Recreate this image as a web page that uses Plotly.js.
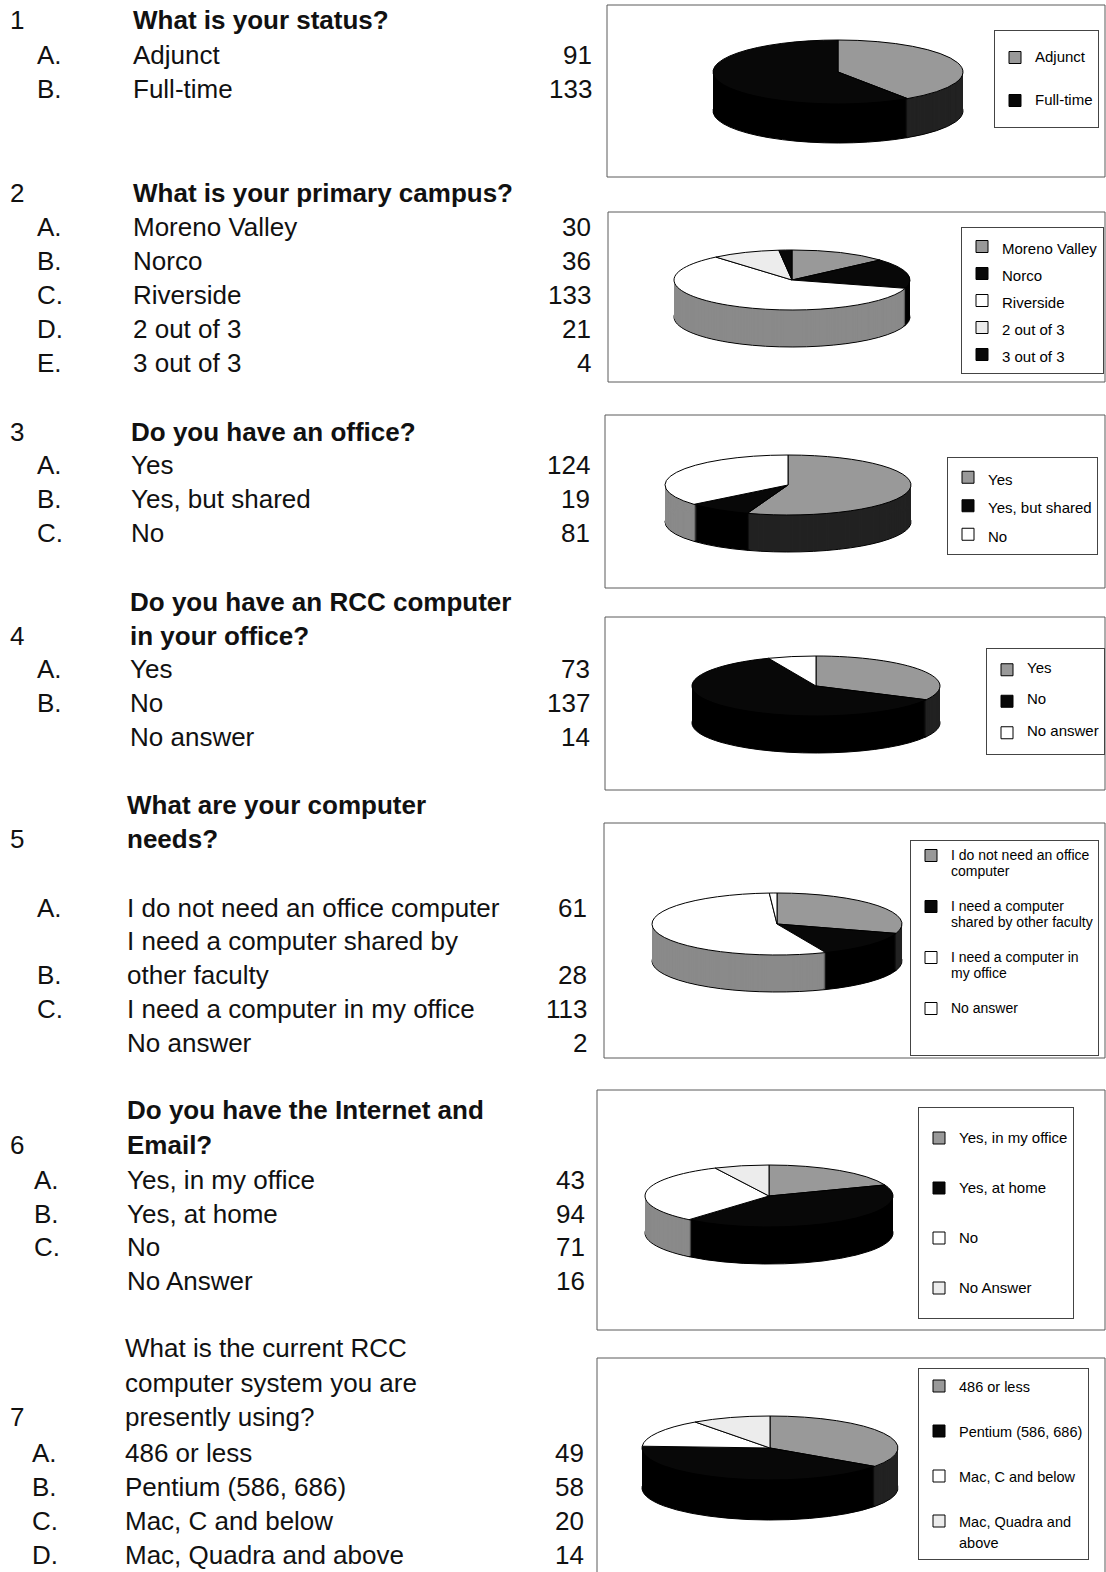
<!DOCTYPE html>
<html><head><meta charset="utf-8">
<script src="https://cdn.plot.ly/plotly-3.0.1.min.js"></script>
<style>html,body{margin:0;padding:0;background:#fff}</style>
</head><body><div id="chart" style="width:1106px;height:1572px"></div>
<script>
const W = 1106, H = 1572;

// ---------------- DATA ----------------
const questionNumbers = ['1', '2', '3', '4', '5', '6', '7'];
const questionTitles = [
  'What is your status?',
  'What is your primary campus?',
  'Do you have an office?',
  'Do you have an RCC computer<br>in your office?',
  'What are your computer<br>needs?',
  'Do you have the Internet and<br>Email?',
  'What is the current RCC<br>computer system you are<br>presently using?'
];
const questionBold = [true, true, true, true, true, true, false];

const q1Labels = ['Adjunct', 'Full-time'];
const q1Values = [91, 133];
const q2Labels = ['Moreno Valley', 'Norco', 'Riverside', '2 out of 3', '3 out of 3'];
const q2Values = [30, 36, 133, 21, 4];
const q3Labels = ['Yes', 'Yes, but shared', 'No'];
const q3Values = [124, 19, 81];
const q4Labels = ['Yes', 'No', 'No answer'];
const q4Values = [73, 137, 14];
const q5Labels = ['I do not need an office computer', 'I need a computer shared by other faculty', 'I need a computer in my office', 'No answer'];
const q5Values = [61, 28, 113, 2];
const q6Labels = ['Yes, in my office', 'Yes, at home', 'No', 'No Answer'];
const q6Values = [43, 94, 71, 16];
const q7Labels = ['486 or less', 'Pentium (586, 686)', 'Mac, C and below', 'Mac, Quadra and above'];
const q7Values = [49, 58, 20, 14];

// letters shown in the left list
const q1Letters = ['A.', 'B.'];
const q2Letters = ['A.', 'B.', 'C.', 'D.', 'E.'];
const q3Letters = ['A.', 'B.', 'C.'];
const q4Letters = ['A.', 'B.', ''];
const q5Letters = ['A.', 'B.', 'C.', ''];
const q6Letters = ['A.', 'B.', 'C.', ''];
const q7Letters = ['A.', 'B.', 'C.', 'D.'];

// wrapped text as printed in the left list
const q5ListText = ['I do not need an office computer', 'I need a computer shared by<br>other faculty', 'I need a computer in my office', 'No answer'];
// wrapped text as printed in the legends
const q5LegendText = ['I do not need an office<br>computer', 'I need a computer<br>shared by other faculty', 'I need a computer in<br>my office', 'No answer'];
const q7LegendText = ['486 or less', 'Pentium (586, 686)', 'Mac, C and below', 'Mac, Quadra and<br>above'];

// ---------------- STYLE / LAYOUT ----------------
const FONT = 'Liberation Sans, Arial, Helvetica, sans-serif';
const G = '#999999', K = '#080808', Wh = '#ffffff', L = '#ececec';
const SIDE = {};
SIDE[G] = '#222222'; SIDE[K] = '#000000'; SIDE[Wh] = '#8a8a8a'; SIDE[L] = '#a0a0a0';

const questions = [
  {labels: q1Labels, values: q1Values, letters: q1Letters, list: q1Labels, legendText: q1Labels, colors: [G, K],
   rowTitle: 20, rows: [55, 89], xLet: 35, xTxt: 131, xCnt: 594,
   cx: 838, cy: 72, a: 125, b: 32, depth: 39, box: [607, 5, 1105, 177],
   leg: {x: 994, y: 30, f: 15, n: 3, S: 43, mode: 'center'}},
  {labels: q2Labels, values: q2Values, letters: q2Letters, list: q2Labels, legendText: q2Labels, colors: [G, K, Wh, L, K],
   rowTitle: 193, rows: [227, 261, 295, 329, 363], xLet: 35, xTxt: 131, xCnt: 593,
   cx: 792, cy: 280, a: 118, b: 30, depth: 37, box: [608, 212, 1105, 382],
   leg: {x: 961, y: 227, f: 15, n: 1, S: 27, mode: 'center'}},
  {labels: q3Labels, values: q3Values, letters: q3Letters, list: q3Labels, legendText: q3Labels, colors: [G, K, Wh],
   rowTitle: 432, rows: [465, 499, 533], xLet: 35, xTxt: 129, xCnt: 592,
   cx: 788, cy: 485, a: 123, b: 30, depth: 37, box: [605, 415, 1105, 588],
   leg: {x: 947, y: 457, f: 15, n: 1, S: 28.5, mode: 'center'}},
  {labels: q4Labels, values: q4Values, letters: q4Letters, list: q4Labels, legendText: q4Labels, colors: [G, K, Wh],
   rowTitle: 602, rows: [669, 703, 737], xLet: 35, xTxt: 128, xCnt: 592,
   cx: 816, cy: 686, a: 124, b: 30, depth: 37, box: [605, 617, 1105, 790],
   leg: {x: 986, y: 648, f: 15, n: 3, S: 31.5, mode: 'center'}},
  {labels: q5Labels, values: q5Values, letters: q5Letters, list: q5ListText, legendText: q5LegendText, colors: [G, K, Wh, Wh],
   rowTitle: 805, rows: [908, 975, 1009, 1043], xLet: 35, xTxt: 125, xCnt: 589,
   cx: 777, cy: 924, a: 125, b: 31, depth: 37, box: [604, 823, 1105, 1058],
   leg: {x: 910, y: 840, f: 14, n: 3, S: 51, mode: 'top'}},
  {labels: q6Labels, values: q6Values, letters: q6Letters, list: q6Labels, legendText: q6Labels, colors: [G, K, Wh, L],
   rowTitle: 1110, rows: [1180, 1214, 1247, 1281], xLet: 32, xTxt: 125, xCnt: 587,
   cx: 769, cy: 1196, a: 124, b: 31, depth: 37, box: [597, 1090, 1105, 1330],
   leg: {x: 918, y: 1107, f: 15, n: 3, S: 50, mode: 'center'}},
  {labels: q7Labels, values: q7Values, letters: q7Letters, list: q7Labels, legendText: q7LegendText, colors: [G, K, Wh, L],
   rowTitle: 1348, rows: [1453, 1487, 1521, 1555], xLet: 30, xTxt: 123, xCnt: 586,
   cx: 770, cy: 1448, a: 128, b: 32, depth: 40, box: [597, 1358, 1105, 1580],
   leg: {x: 918, y: 1368, f: 14.5, n: 2, S: 45, mode: 'top'}}
];
const LINE = 34.5;
const TEXT_SIZE = 26;

const px = x => x / W;
const py = y => 1 - y / H;

const annotations = [];
const shapes = [];
const traces = [];
const traceMeta = [];
const layout = {
  width: W, height: H, margin: {l: 0, r: 0, t: 0, b: 0},
  paper_bgcolor: '#ffffff', plot_bgcolor: '#ffffff',
  showlegend: true, hovermode: false,
  font: {family: FONT, color: '#111'}
};

function addText(text, x, y, anchor, bold) {
  annotations.push({
    text: bold ? '<b>' + text + '</b>' : text,
    x: px(x), y: py(y), xref: 'paper', yref: 'paper',
    xanchor: anchor, yanchor: 'middle', showarrow: false,
    font: {family: FONT, size: TEXT_SIZE, color: '#111'}
  });
}

questions.forEach((q, qi) => {
  // ----- left list -----
  const tLines = questionTitles[qi].split('<br>');
  tLines.forEach((t, li) => addText(t, q.xTxt, q.rowTitle + li * LINE, 'left', questionBold[qi]));
  addText(questionNumbers[qi], 8, q.rowTitle + (tLines.length - 1) * LINE, 'left', false);
  q.values.forEach((v, i) => {
    const y = q.rows[i];
    const lines = q.list[i].split('<br>');
    lines.forEach((t, li) => addText(t, q.xTxt, y - (lines.length - 1 - li) * LINE, 'left', false));
    if (q.letters[i]) addText(q.letters[i], q.xLet, y, 'left', false);
    addText(String(v), q.xCnt, y, 'right', false);
  });

  // ----- chart frame -----
  shapes.push({type: 'rect', xref: 'paper', yref: 'paper',
    x0: px(q.box[0]), x1: px(q.box[2]), y0: py(q.box[1]), y1: py(q.box[3]),
    line: {color: '#5a5a5a', width: 1}, fillcolor: 'rgba(0,0,0,0)', layer: 'below'});

  // ----- legend -----
  const legId = qi === 0 ? 'legend' : 'legend' + (qi + 1);
  const F = (q.leg.S - 3) / (1.3 * q.leg.n);
  layout[legId] = {
    x: px(q.leg.x), y: py(q.leg.y), xanchor: 'left', yanchor: 'top',
    bgcolor: '#ffffff', bordercolor: '#444', borderwidth: 1,
    font: {family: FONT, size: F, color: '#000'},
    valign: q.leg.mode === 'top' ? 'top' : 'middle',
    itemclick: false, itemdoubleclick: false, traceorder: 'normal'
  };
  const styleTail = ';'.repeat(qi + 1); // keeps entries of different legends distinct
  const legLabels = q.legendText.map(t => {
    const ls = t.split('<br>').map(s => '<span style="font-size:' + q.leg.f + 'px' + styleTail + '">' + s + '</span>');
    if (q.leg.mode === 'top') {
      while (ls.length < q.leg.n) ls.push('\u00a0');
    } else {
      while (ls.length < q.leg.n) { ls.unshift('\u00a0'); ls.push('\u00a0'); }
    }
    return ls.join('<br>');
  });

  // ----- 3D-looking pie: side layers + top face -----
  const cyD = Math.min(Math.max(q.cy, q.a + 2), H - q.a - 2);
  const dom = {x: [px(q.cx - q.a), px(q.cx + q.a)], y: [py(cyD + q.a), py(cyD - q.a)]};
  const k = q.b / q.a;
  const offs = [];
  for (let o = q.depth; o > 0; o -= 1) offs.push(o);
  offs.forEach((o, li) => {
    traces.push({type: 'pie', labels: q.labels, values: q.values, sort: false, direction: 'clockwise', rotation: 0,
      domain: dom, textinfo: 'none', hoverinfo: 'none', showlegend: false, legend: legId,
      marker: {colors: q.colors.map(c => SIDE[c]), line: {color: '#000', width: li === 0 ? 1 : 0}}});
    traceMeta.push({cy: q.cy, off: o, k: k});
  });
  traces.push({type: 'pie', labels: legLabels, values: q.values, sort: false, direction: 'clockwise', rotation: 0,
    domain: dom, textinfo: 'none', hoverinfo: 'none', showlegend: true, legend: legId,
    marker: {colors: q.colors, line: {color: '#000', width: 1}}});
  traceMeta.push({cy: q.cy, off: 0, k: k});
});

layout.annotations = annotations;
layout.shapes = shapes;

function flatten() {
  const gd = document.getElementById('chart');
  gd.querySelectorAll('.pielayer g.trace').forEach(g => {
    const cd = g.__data__;
    if (!cd || !cd[0]) return;
    const cd0 = cd[0];
    const m = traceMeta[cd0.trace.index];
    if (!m) return;
    const ty = m.cy + m.off - cd0.cy * m.k;
    g.setAttribute('transform', 'translate(0,' + ty + ') scale(1,' + m.k + ')');
    g.querySelectorAll('path').forEach(p => p.setAttribute('vector-effect', 'non-scaling-stroke'));
  });
}

const gd = document.getElementById('chart');
Plotly.newPlot(gd, traces, layout, {staticPlot: true, displayModeBar: false}).then(() => {
  flatten();
  gd.on && gd.on('plotly_afterplot', flatten);
  setTimeout(flatten, 50);
});
</script>
</body></html>
